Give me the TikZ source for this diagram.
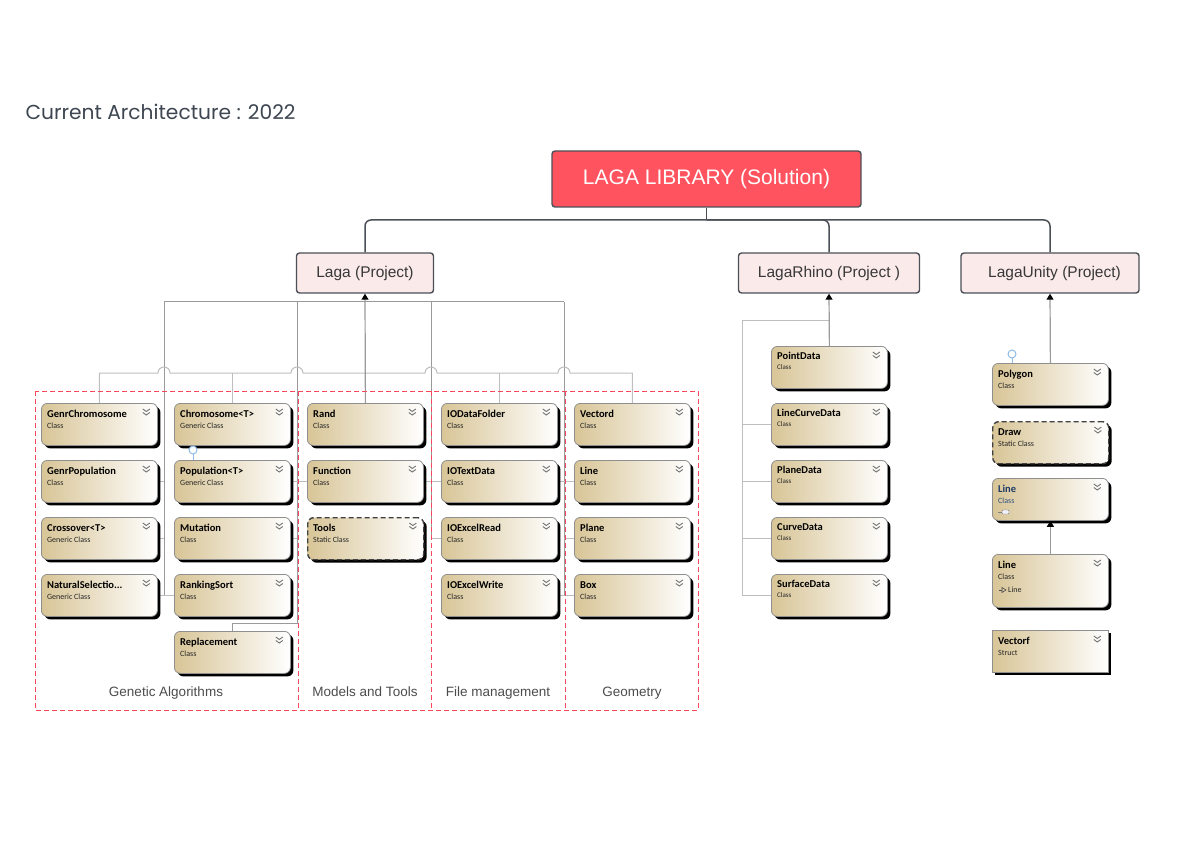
\documentclass[tikz,border=0pt]{standalone}
\usepackage{fontspec}
\setmainfont{Liberation Sans}
\newfontfamily\clsfont{Carlito}
\newfontfamily\headfont{Poppins}
\usetikzlibrary{arrows.meta,shadows}
\pgfdeclarelayer{bg}
\pgfsetlayers{bg,main}

\definecolor{solred}{HTML}{FF535F}
\definecolor{projpink}{HTML}{FBEAEA}
\definecolor{treegray}{HTML}{4B5057}
\definecolor{clstan}{HTML}{D8C597}
\definecolor{clsedge}{HTML}{8F8F8F}
\definecolor{busgray}{HTML}{9A9A9A}
\definecolor{stubgray}{HTML}{BEBEBE}
\definecolor{grpred}{HTML}{FF4757}
\definecolor{lollyblue}{HTML}{8DBBE6}
\definecolor{headgray}{HTML}{3D4651}
\definecolor{navyname}{HTML}{1F3A68}
\definecolor{navykind}{HTML}{2E5283}

\tikzset{
  sol/.style={draw=treegray, line width=1.4pt, fill=solred, rounded corners=3pt,
    minimum width=309pt, minimum height=56pt, text=white, font=\fontsize{21}{24}\selectfont},
  proj/.style={draw=treegray, line width=1.4pt, fill=projpink, rounded corners=3pt,
    minimum height=40pt, text=black!78, font=\fontsize{15.5}{18}\selectfont},
  tree/.style={draw=treegray, line width=1.5pt, rounded corners=6pt},
  cls/.style={draw=clsedge, line width=0.8pt, rounded corners=6pt, left color=clstan, right color=white,
    minimum width=116pt, minimum height=42pt, inner sep=0pt, anchor=north west,
    drop shadow={shadow xshift=3pt, shadow yshift=-3pt, fill=black, opacity=1}},
  staticcls/.style={cls, draw=black!75, line width=1.4pt, dash pattern=on 5pt off 3pt},
  structcls/.style={cls, sharp corners},
  clsname/.style={anchor=base west, inner sep=0pt, xshift=6pt, yshift=-14pt,
    font=\clsfont\bfseries\fontsize{10.5}{12}\selectfont},
  clskind/.style={anchor=base west, inner sep=0pt, xshift=6pt, yshift=-25pt, text=black!85,
    font=\clsfont\fontsize{8}{9}\selectfont},
  chev/.style={draw=black!55, line width=0.9pt},
  bus/.style={draw=busgray, line width=1pt},
  stub/.style={draw=stubgray, line width=1pt},
  inherit/.style={draw=busgray, line width=1.2pt, -{Triangle[width=7pt,length=6pt,black]}},
  lolly/.style={draw=lollyblue, line width=1pt, fill=white},
  grp/.style={draw=grpred, line width=1pt, dash pattern=on 5pt off 3pt},
  grplabel/.style={anchor=base, text=black!70, font=\fontsize{13.5}{16}\selectfont},
}

\newcommand{\clsbox}[6][cls]{%
  \node[#1] (#2) at (#3,#4) {};
  \node[clsname] (#2-name) at (#2.north west) {#5};
  \node[clskind] (#2-kind) at (#2.north west) {#6};
  \draw[chev] ([xshift=-15pt,yshift=-6pt]#2.north east) -- ++(3.5,2.5) -- ++(3.5,-2.5);
  \draw[chev] ([xshift=-15pt,yshift=-9.5pt]#2.north east) -- ++(3.5,2.5) -- ++(3.5,-2.5);
}

\begin{document}
\begin{tikzpicture}[x=1pt,y=-1pt]
\useasboundingbox (0,0) rectangle (1191,842);

\node[anchor=base west, text=headgray, font=\headfont\fontsize{20.2}{23}\selectfont] (title) at (22,120) {Current Architecture : 2022};

\node[sol] (lib) at (706.5,179) {LAGA LIBRARY (Solution)};
\node[proj, minimum width=137pt] (laga) at (365,273) {Laga (Project)};
\node[proj, minimum width=181pt] (rhino) at (829,273) {LagaRhino (Project )};
\node[proj, minimum width=178pt] (unity) at (1050,273) {\hspace*{9pt}LagaUnity (Project)};

\coordinate (bar) at (0,220);
\draw[tree] (laga.north) |- (bar -| unity.north) -- (unity.north);
\draw[tree] (lib.south) -- (bar -| lib.south);
\draw[tree] (rhino.north) |- (bar -| lib.south);

\clsbox{genchrom}{41}{403}{GenrChromosome}{Class}
\clsbox{genpop}{41}{460}{GenrPopulation}{Class}
\clsbox{cross}{41}{517}{Crossover<T>}{Generic Class}
\clsbox{natsel}{41}{574}{NaturalSelectio...}{Generic Class}

\clsbox{chrom}{174}{403}{Chromosome<T>}{Generic Class}
\clsbox{pop}{174}{460}{Population<T>}{Generic Class}
\clsbox{mut}{174}{517}{Mutation}{Class}
\clsbox{rank}{174}{574}{RankingSort}{Class}
\clsbox{repl}{174}{631}{Replacement}{Class}

\clsbox{rand}{307}{403}{Rand}{Class}
\clsbox{func}{307}{460}{Function}{Class}
\clsbox[staticcls]{tools}{307}{517}{Tools}{Static Class}

\clsbox{iofolder}{441}{403}{IODataFolder}{Class}
\clsbox{iotext}{441}{460}{IOTextData}{Class}
\clsbox{ioread}{441}{517}{IOExcelRead}{Class}
\clsbox{iowrite}{441}{574}{IOExcelWrite}{Class}

\clsbox{vecd}{574}{403}{Vectord}{Class}
\clsbox{lined}{574}{460}{Line}{Class}
\clsbox{planed}{574}{517}{Plane}{Class}
\clsbox{boxd}{574}{574}{Box}{Class}

\begin{scope}[clsname/.append style={yshift=1pt}, clskind/.append style={yshift=2pt, font=\clsfont\fontsize{7}{8}\selectfont}]
\clsbox{pointd}{771}{346}{PointData}{Class}
\clsbox{linecurve}{771}{403}{LineCurveData}{Class}
\clsbox{planedata}{771}{460}{PlaneData}{Class}
\clsbox{curvedata}{771}{517}{CurveData}{Class}
\clsbox{surfdata}{771}{574}{SurfaceData}{Class}
\end{scope}

\clsbox{polygon}{992}{363}{Polygon}{Class}
\clsbox[staticcls]{drawc}{992}{421}{Draw}{Static Class}
\begin{scope}[clsname/.append style={text=navyname}, clskind/.append style={text=navykind}]
\clsbox{lineu1}{992}{478}{Line}{Class}
\end{scope}
\clsbox[cls, minimum height=53pt]{lineu2}{992}{554}{Line}{Class}
\clsbox[structcls]{vectorf}{992}{630}{Vectorf}{Struct}

\draw[gray, fill=blue!5, rounded corners=1pt] ([xshift=10pt,yshift=-32pt]lineu1.north west) rectangle ++(7,4);
\draw[gray] ([xshift=6pt,yshift=-34pt]lineu1.north west) -- ++(4,0);
\draw[black!70, line width=0.6pt] ([xshift=7pt,yshift=-36pt]lineu2.north west) -- ++(3,0);
\draw[black!70, line width=0.6pt] ([xshift=10pt,yshift=-33.5pt]lineu2.north west) -- ++(0,5) -- ++(4,-2.5) -- cycle;
\node[clskind, yshift=-13pt, xshift=10pt] (lineu2-base) at (lineu2.north west) {Line};

\begin{pgfonlayer}{bg}
\coordinate (ja) at (164,302);
\coordinate (jb) at (297,302);
\coordinate (jc) at (431,302);
\coordinate (jd) at (564,302);
\coordinate (k) at (0,373);
\draw[bus] (ja) -- (jd);
\draw[bus] (ja) -- (ja |- rank.west);
\draw[bus] (jb) -- (jb |- 0,623) -| (repl.north);
\draw[bus] (jc) -- (jc |- ioread.west);
\draw[bus] (jd) -- (jd |- boxd.west);
\draw[stub] (natsel.east) -- (rank.west);
\draw[stub] (genpop.east) -- (genpop.east -| ja);
\draw[stub] (cross.east) -- (cross.east -| ja);
\draw[stub] (pop.east) -- (func.west);
\draw[stub] (mut.east) -- (mut.east -| jb);
\draw[stub] (func.east) -- (iotext.west);
\draw[stub] (ioread.west) -- (ioread.west -| jc);
\draw[stub] (iotext.east) -- (lined.west);
\draw[stub] (planed.west) -- (planed.west -| jd);
\draw[stub] (iowrite.east) -- (boxd.west);
\draw[stub] (genchrom.north) |- (158,373) arc[start angle=180, end angle=0, radius=6pt]
  -- (291,373) arc[start angle=180, end angle=0, radius=6pt]
  -- (425,373) arc[start angle=180, end angle=0, radius=6pt]
  -- (558,373) arc[start angle=180, end angle=0, radius=6pt]
  -- (vecd.north |- k) -- (vecd.north);
\draw[stub] (chrom.north) -- (chrom.north |- k);
\draw[stub] (iofolder.north) -- (iofolder.north |- k);
\draw[inherit] (rand.north) -- (laga.south);

\coordinate (rj) at (742,320);
\draw[stub] (pointd.north |- rj) -- (rj) -- (rj |- surfdata.west) -- (surfdata.west);
\draw[stub] (linecurve.west) -- (linecurve.west -| rj);
\draw[stub] (planedata.west) -- (planedata.west -| rj);
\draw[stub] (curvedata.west) -- (curvedata.west -| rj);
\draw[inherit] (pointd.north) -- (rhino.south);

\draw[inherit] (polygon.north) -- (unity.south);
\draw[inherit] (lineu2.north) -- (lineu1.south);
\end{pgfonlayer}

\coordinate (popif) at ([xshift=19pt]pop.north west);
\draw[lolly] (popif) -- ++(0,-6);
\draw[lolly] ([yshift=10pt]popif) circle[radius=4pt];
\coordinate (polyif) at ([xshift=20pt]polygon.north west);
\draw[lolly] (polyif) -- ++(0,-5);
\draw[lolly] ([yshift=9pt]polyif) circle[radius=4pt];

\draw[grp] (35,391) rectangle (698,710);
\foreach \x in {298,431,565}
  \draw[grp] (\x,391) -- (\x,710);

\node[grplabel] (ga) at (166,696) {Genetic Algorithms};
\node[grplabel] (mt) at (365,696) {Models and Tools};
\node[grplabel] (fm) at (498,696) {File management};
\node[grplabel] (geo) at (632,696) {Geometry};

\end{tikzpicture}
\end{document}
